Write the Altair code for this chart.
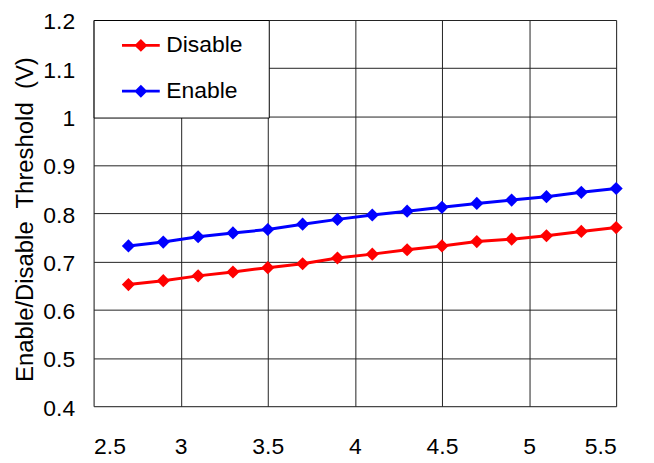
import altair as alt
import pandas as pd

vin = [2.7, 2.9, 3.1, 3.3, 3.5, 3.7, 3.9, 4.1, 4.3, 4.5, 4.7, 4.9, 5.1, 5.3, 5.5]
disable = [0.652, 0.660, 0.670, 0.678, 0.687, 0.695, 0.707, 0.715, 0.724, 0.732, 0.741, 0.746, 0.753, 0.762, 0.770]
enable = [0.732, 0.740, 0.751, 0.759, 0.766, 0.777, 0.787, 0.796, 0.804, 0.812, 0.820, 0.827, 0.834, 0.843, 0.851]
series_names = ["Disable", "Enable"]
series_colors = ["#ff0000", "#0000ff"]
x_ticks = [2.5, 3.0, 3.5, 4.0, 4.5, 5.0, 5.5]
y_ticks = [0.4, 0.5, 0.6, 0.7, 0.8, 0.9, 1.0, 1.1, 1.2]
y_title = "Enable/Disable\u00a0 Threshold\u00a0 (V)"

rows = []
for name, vals in zip(series_names, [disable, enable]):
    for xv, yv in zip(vin, vals):
        rows.append({"Vin": xv, "Threshold": yv, "Series": name})
df = pd.DataFrame(rows)

FONT = "Liberation Sans"

x_enc = alt.X("Vin:Q", scale=alt.Scale(domain=[2.5, 5.5], nice=False, zero=False),
              axis=alt.Axis(values=x_ticks, format=".1~f", title=None, labelFontSize=23,
                            labelPadding=30, ticks=False, domain=False, grid=True,
                            gridColor="#222222", gridWidth=1, labelColor="black", labelFont=FONT))
y_enc = alt.Y("Threshold:Q", scale=alt.Scale(domain=[0.4, 1.2], nice=False, zero=False),
              axis=alt.Axis(values=y_ticks, format=".1~f", title=y_title,
                            titleFontSize=24, titleFontWeight="normal", titleColor="black",
                            titleFont=FONT, titlePadding=5, titleY=200,
                            labelFontSize=23, labelPadding=19, labelOffset=2,
                            ticks=False, domain=False, grid=True, gridColor="#222222", gridWidth=1,
                            labelColor="black", labelFont=FONT))

legend_symbol = "M-2.71,-0.2H2.71V0.2H-2.71Z M0,-0.93L0.93,0L0,0.93L-0.93,0Z"
legend = alt.Legend(title=" ", titleOrient="right", titlePadding=12, titleFontSize=10,
                    orient="none", legendX=0, legendY=0,
                    symbolType=legend_symbol, symbolSize=196,
                    symbolStrokeWidth=0, symbolOpacity=1,
                    labelFontSize=23, labelFont=FONT, labelColor="black",
                    padding=14, symbolOffset=22, labelOffset=14,
                    rowPadding=22, strokeColor="black", fillColor="white",
                    labelLimit=300)
color_enc = alt.Color("Series:N", scale=alt.Scale(domain=series_names, range=series_colors),
                      legend=legend)

lines = alt.Chart(df).mark_line(strokeWidth=3).encode(x=x_enc, y=y_enc, color=color_enc)
points = alt.Chart(df).mark_point(shape="diamond", filled=True, size=175, opacity=1).encode(
    x=x_enc, y=y_enc, color=color_enc)

chart = alt.layer(lines, points).properties(
    width=525, height=388,
    autosize=alt.AutoSizeParams(type="none"),
    padding={"left": 86, "top": 11, "right": 30, "bottom": 55},
).configure_view(stroke="black", strokeWidth=1.5).configure(background="white")

chart.save("out.html", embed_options={"renderer": "svg", "actions": False})
